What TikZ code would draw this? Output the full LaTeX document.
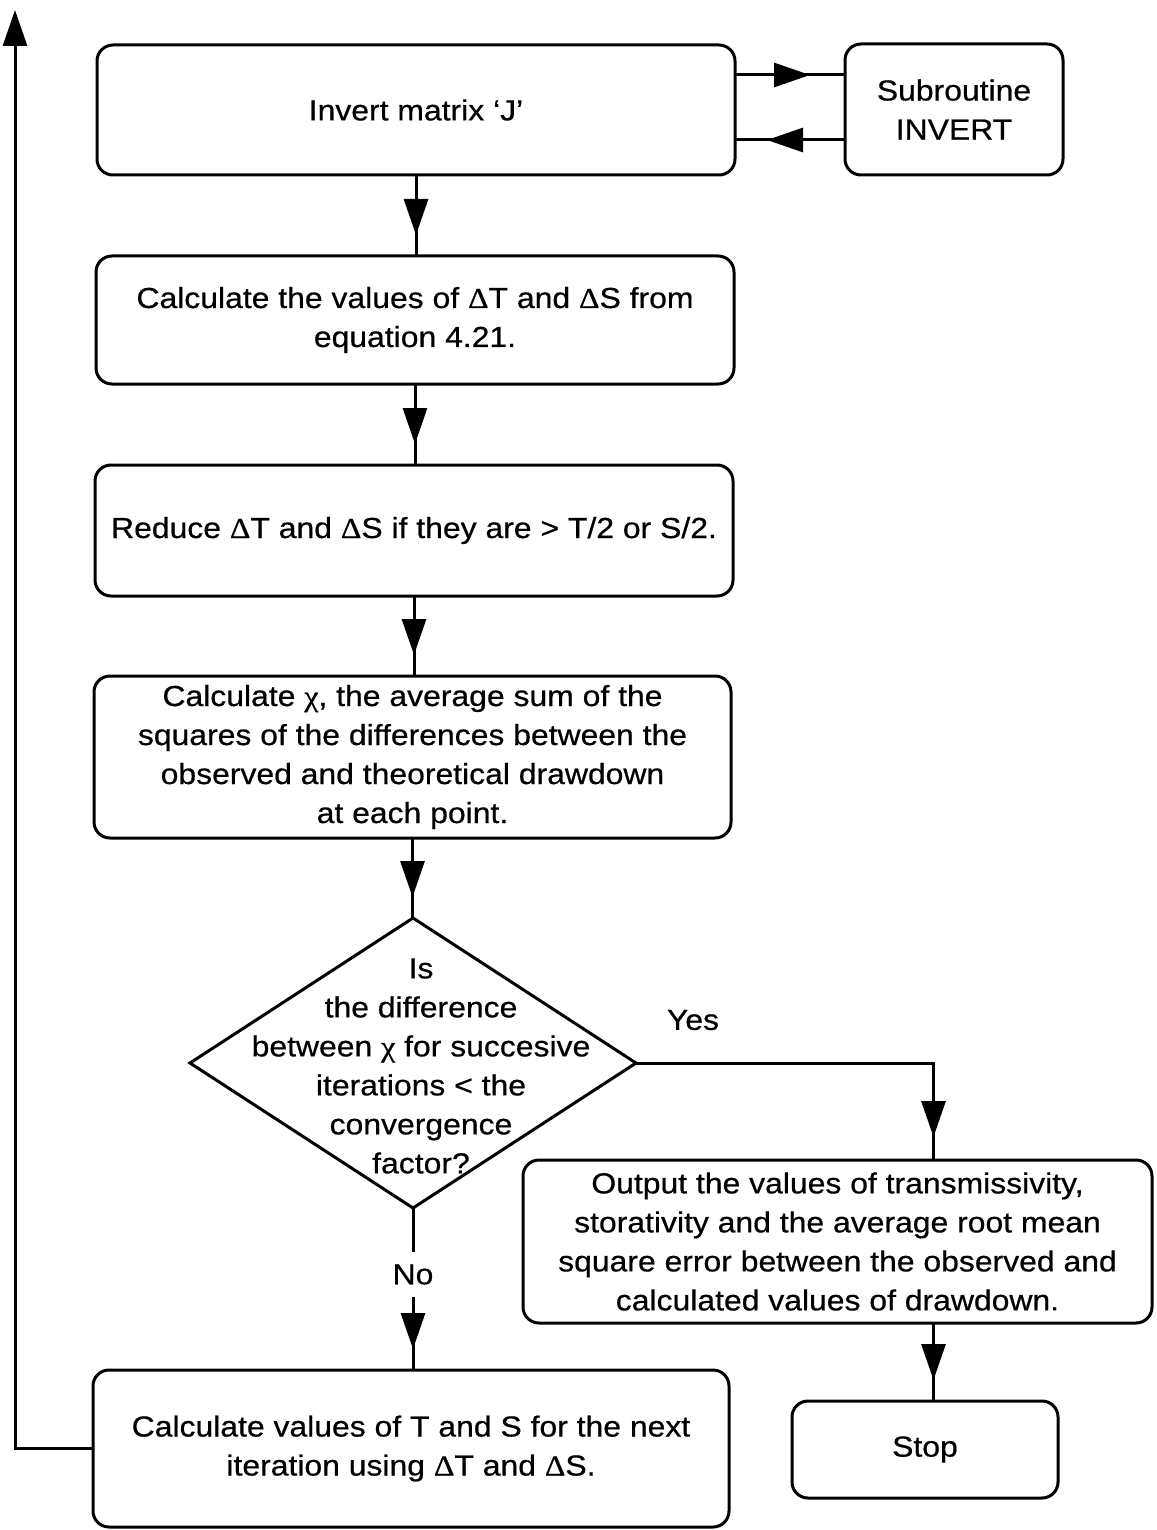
\documentclass[tikz,border=0pt]{standalone}
\usepackage{fontspec}
\setmainfont{Liberation Sans}[FakeStretch=1.1,FakeBold=0.6]
\newfontfamily\grk{Liberation Serif}[FakeStretch=1.1,FakeBold=0.6]
\usetikzlibrary{arrows.meta,shapes.geometric,decorations.markings}
\newcommand\Dl{{\grk Δ}}
\newcommand\Ch{{\grk χ}}
\begin{document}
\begin{tikzpicture}[x=0.5pt,y=-0.5pt,
  line width=1.5pt,
  every node/.style={font=\fontsize{14.5pt}{19.5pt}\selectfont},
  box/.style={draw,rounded corners=8pt,align=center,outer sep=0pt,inner sep=0pt},
  flow/.style={postaction={decorate},
    decoration={markings,mark=at position -#1 with {\arrow{Triangle[length=18pt,width=12pt]}}}},
  flow/.default=10.5pt,
  lbl/.style={fill=white,inner xsep=2pt,inner ysep=6pt}]
\useasboundingbox (0,0) rectangle (1156,1530);

% process boxes
\node[box,minimum width=319pt,minimum height=65pt] (inv) at (416,110) {Invert matrix ‘J’};
\node[box,minimum width=109pt,minimum height=65.5pt] (sub) at (954,109.5) {Subroutine\\INVERT};
\node[box,minimum width=319pt,minimum height=64pt] (dlt) at (415,320)
  {Calculate the values of \Dl T and \Dl S from\\equation 4.21.};
\node[box,minimum width=319pt,minimum height=65.5pt] (red) at (414,530.5)
  {Reduce \Dl T and \Dl S if they are > T/2 or S/2.};
\node[box,minimum width=318.5pt,minimum height=81pt] (chi) at (412.5,757)
  {Calculate \Ch, the average sum of the\\squares of the differences between the\\observed and theoretical drawdown\\at each point.};

% decision
\node[draw,diamond,minimum width=223pt,minimum height=145pt,inner sep=0pt,outer sep=0pt] (dec) at (413,1063) {};
\node[align=center,inner sep=0pt] (dectxt) at (421,1066)
  {Is\\the difference\\between \Ch{} for succesive\\iterations < the\\convergence\\factor?};

\node[box,minimum width=314.5pt,minimum height=81.5pt] (out) at (837.5,1241.5)
  {Output the values of transmissivity,\\storativity and the average root mean\\square error between the observed and\\calculated values of drawdown.};
\node[box,minimum width=133pt,minimum height=48.5pt] (stop) at (925,1449.5) {Stop};
\node[box,minimum width=318pt,minimum height=78.5pt] (nxt) at (411,1448.5)
  {Calculate values of T and S for the next\\iteration using \Dl T and \Dl S.};
\coordinate (top) at (15,10);

% connectors
\draw[flow] (inv.south) -- (inv.south |- dlt.north);
\draw[flow] (dlt.south) -- (dlt.south |- red.north);
\draw[flow] (red.south) -- (red.south |- chi.north);
\draw[flow] (chi.south) -- (chi.south |- dec.north);
\draw[flow=17.5pt] ([yshift=17.5pt]inv.east) -- ([yshift=17.5pt]inv.east -| sub.west);
\draw[flow=16pt] ([yshift=-15.25pt]sub.west) -- ([yshift=-15.25pt]sub.west -| inv.east);
\draw[flow=11.5pt] (dec.east) -| ([xshift=48pt]out.north);
\node (yes) at (693,1020) {Yes};
\draw[flow] ([xshift=48pt]out.south) -- ([xshift=48pt]out.south |- stop.north);
\draw[flow] (dec.south) -- (dec.south |- nxt.north) node[lbl,pos=0.41] (no) {No};
\draw[-{Triangle[length=18pt,width=12pt]}] (nxt.west) -| (top);
\end{tikzpicture}
\end{document}
